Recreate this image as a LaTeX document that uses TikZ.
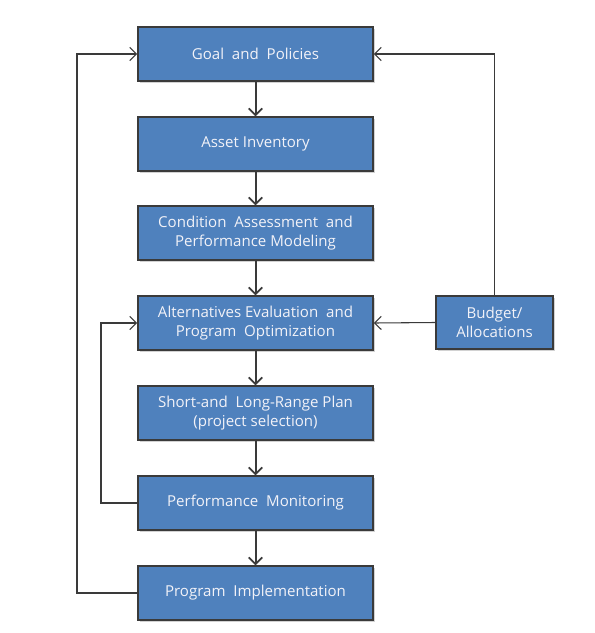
\documentclass[tikz,border=0pt]{standalone}
\usepackage{fontspec}
\setmainfont{Open Sans}
\usetikzlibrary{arrows.meta,shadows}
\definecolor{boxblue}{HTML}{4F81BD}
\definecolor{boxedge}{HTML}{3A3A3A}
\definecolor{txt}{HTML}{F2F2F8}
\tikzset{
  blk/.style={draw=boxedge, line width=1.6pt, fill=boxblue, text=txt,
    minimum width=176pt, minimum height=40pt, align=center, inner sep=0pt,
    font=\fontsize{11.3pt}{14.5pt}\selectfont,
    drop shadow={opacity=0.35, shadow xshift=1.5pt, shadow yshift=-1.5pt, fill=gray}},
  smallblk/.style={blk, minimum width=88pt},
  flow/.style={draw=boxedge, line width=1.5pt, -{Straight Barb[length=5pt,width=10pt,line width=1.3pt]}},
  fb/.style={draw=boxedge, line width=0.8pt, -{Straight Barb[length=5pt,width=10pt,line width=0.8pt]}}
}
\begin{document}
\begin{tikzpicture}[x=0.75pt,y=-0.75pt]
\useasboundingbox (0,0) rectangle (594,633);
\fill[white] (0,0) rectangle (594,633);
\node[blk] (goal) at (255.5,54) {Goal\ \ and\ \ Policies};
\node[blk] (asset) at (255.5,144) {Asset Inventory};
\node[blk] (cond) at (255.5,233) {Condition\ \ Assessment\ \ and\\Performance Modeling};
\node[blk] (alt) at (255.5,323) {Alternatives Evaluation\ \ and\\Program\ \ Optimization};
\node[blk] (plan) at (255.5,413) {Short-and\ \ Long-Range Plan\\(project selection)};
\node[blk] (mon) at (255.5,503) {Performance\ \ Monitoring};
\node[blk] (impl) at (255.5,593) {Program\ \ Implementation};
\node[smallblk] (bud) at (494.5,322.5) {Budget/\\Allocations};
\coordinate (o1) at (77,593);
\coordinate (o2) at (77,54);
\coordinate (i1) at (101,503);
\coordinate (i2) at (101,323);
\coordinate (b1) at (bud.north |- goal.east);
\draw[flow] (goal) -- (asset);
\draw[flow] (asset) -- (cond);
\draw[flow] (cond) -- (alt);
\draw[flow] (alt) -- (plan);
\draw[flow] (plan) -- (mon);
\draw[flow] (mon) -- (impl);
\draw[fb] (impl.west) -- (o1) -- (o2) -- (goal.west);
\draw[fb] (mon.west) -- (i1) -- (i2) -- (alt.west);
\draw[fb] (bud.north) -- (b1) -- (goal.east);
\draw[fb] (bud.west) -- (alt.east);
\end{tikzpicture}
\end{document}
